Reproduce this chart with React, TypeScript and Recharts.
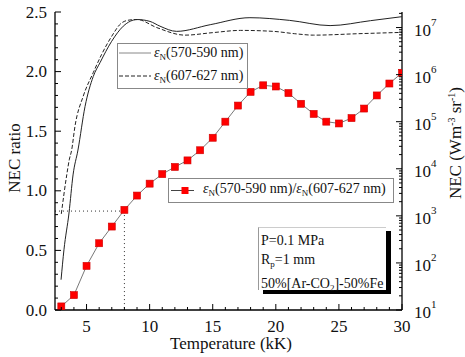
import { ComposedChart, Line, ReferenceLine, XAxis, YAxis } from "recharts";

const temps = [3, 4, 5, 6, 7, 8, 9, 10, 11, 12, 13, 14, 15, 16, 17, 18, 19, 20, 21, 22, 23, 24, 25, 26, 27, 28, 29, 30];
const ratio = [0.03, 0.125, 0.37, 0.56, 0.7, 0.84, 0.96, 1.06, 1.14, 1.2, 1.255, 1.34, 1.445, 1.58, 1.715, 1.83, 1.885, 1.875, 1.82, 1.73, 1.645, 1.58, 1.565, 1.61, 1.69, 1.8, 1.9, 1.99];

// NEC, 570-590 nm (solid)
const solidT = [2.98, 3.21, 3.61, 3.93, 4.32, 4.88, 5.53, 6.07, 6.99, 7.91, 9.02, 10.03, 10.82, 12.14, 14.8, 17.95, 21.1, 24.3, 27.5, 29.97];
const solidNec = [44, 190, 1150, 7400, 25000, 2.1e5, 9.1e5, 1.8e6, 5.1e6, 1.07e7, 1.48e7, 1.35e7, 1.07e7, 8.3e6, 1.15e7, 1.62e7, 1.42e7, 1.1e7, 1.4e7, 1.7e7];

// NEC, 607-627 nm (dashed)
const dashedT = [3.0, 3.43, 3.63, 3.82, 4.08, 4.74, 5.53, 6.2, 6.99, 7.79, 8.44, 9.02, 10.56, 12.8, 15.0, 17.2, 19.8, 21.5, 23.0, 26.5, 30.0];
const dashedNec = [1.1e3, 7.4e3, 1.55e4, 2.5e4, 7.9e4, 3.5e5, 1.1e6, 2.7e6, 6.5e6, 1.26e7, 1.45e7, 1.48e7, 1.0e7, 6.9e6, 7.8e6, 8.7e6, 8.3e6, 7.4e6, 6.9e6, 7.4e6, 7.9e6];

const tempTicks = [3, 4, 5, 6, 7, 8, 9, 10, 11, 12, 13, 14, 15, 16, 17, 18, 19, 20, 21, 22, 23, 24, 25, 26, 27, 28, 29, 30];
const ratioTicks = Array.from({ length: 26 }, (_, i) => i / 10);
const necTicks = [1, 2, 3, 4, 5, 6].flatMap((k) => [1, 2, 3, 4, 5, 6, 7, 8, 9].map((m) => m * 10 ** k)).concat([1e7, 2e7]);

const markT = 8;
const markRatio = 0.83;

const ratioData = temps.map((t, i) => ({ T: t, r: ratio[i] }));
const solidData = solidT.map((t, i) => ({ T: t, nec: solidNec[i] }));
const dashedData = dashedT.map((t, i) => ({ T: t, nec: dashedNec[i] }));

const FONT = '"Liberation Serif", "Times New Roman", serif';

function BottomTick(props: any) {
  const { x, y, payload } = props;
  const major = payload.value % 5 === 0;
  return (
    <g>
      <line x1={x} x2={x} y1={y} y2={y - (major ? 6 : 3)} stroke="#000" />
      {major && (
        <text x={x} y={y + 16} textAnchor="middle" dominantBaseline="central" fontSize={17} fontFamily={FONT} fill="#111">
          {payload.value}
        </text>
      )}
    </g>
  );
}

function TopTick(props: any) {
  const { x, y, payload } = props;
  const major = payload.value % 5 === 0;
  return <line x1={x} x2={x} y1={y} y2={y + (major ? 6 : 3)} stroke="#000" />;
}

function LeftTick(props: any) {
  const { x, y, payload } = props;
  const v = payload.value;
  const major = Math.abs(v * 2 - Math.round(v * 2)) < 1e-6;
  return (
    <g>
      <line x1={x} x2={x + (major ? 6 : 3)} y1={y} y2={y} stroke="#000" />
      {major && (
        <text x={x - 8} y={y} textAnchor="end" dominantBaseline="central" fontSize={17} fontFamily={FONT} fill="#111">
          {v.toFixed(1)}
        </text>
      )}
    </g>
  );
}

function RightTick(props: any) {
  const { x, y, payload } = props;
  const exp = Math.log10(payload.value);
  const major = Math.abs(exp - Math.round(exp)) < 1e-6;
  return (
    <g>
      <line x1={x} x2={x - (major ? 6 : 3)} y1={y} y2={y} stroke="#000" />
      {major && (
        <text x={x + 12} y={y + 2} dominantBaseline="central" fontSize={17} fontFamily={FONT} fill="#111">
          <tspan>10</tspan>
          <tspan dy={-8} fontSize={11}>{Math.round(exp)}</tspan>
        </text>
      )}
    </g>
  );
}

function SquareDot(props: any) {
  const { cx, cy } = props;
  if (cx == null || cy == null) return null;
  return <rect x={cx - 3.5} y={cy - 3.5} width={7} height={7} fill="#ff0000" stroke="#d00000" strokeWidth={0.6} />;
}

const Eps = () => (
  <span>
    <i>ε</i>
    <sub style={{ fontSize: 9, verticalAlign: "-3px" }}>N</sub>
  </span>
);

export default function App() {
  return (
    <div style={{ position: "absolute", left: 0, top: 0, width: 465, height: 357, background: "#fff", fontFamily: FONT }}>
      <ComposedChart width={465} height={357} margin={{ top: 12, right: 0, bottom: 0, left: 0 }}>
        <XAxis
          xAxisId="t"
          dataKey="T"
          type="number"
          domain={[2.5, 30]}
          allowDataOverflow
          ticks={tempTicks}
          interval={0}
          height={47}
          tickSize={0}
          tickMargin={0}
          tickLine={false}
          tick={<BottomTick />}
          axisLine={{ stroke: "#000", strokeWidth: 1.3 }}
        />
        <XAxis
          xAxisId="top"
          orientation="top"
          type="number"
          domain={[2.5, 30]}
          allowDataOverflow
          ticks={tempTicks}
          interval={0}
          height={0}
          tickSize={0}
          tickMargin={0}
          tickLine={false}
          tick={<TopTick />}
          axisLine={{ stroke: "#000", strokeWidth: 1.3 }}
        />
        <YAxis
          yAxisId="ratio"
          type="number"
          domain={[0, 2.5]}
          allowDataOverflow
          ticks={ratioTicks}
          interval={0}
          width={55}
          tickSize={0}
          tickMargin={0}
          tickLine={false}
          tick={<LeftTick />}
          axisLine={{ stroke: "#000", strokeWidth: 1.3 }}
        />
        <YAxis
          yAxisId="nec"
          orientation="right"
          type="number"
          scale="log"
          domain={[10, 2.14e7]}
          allowDataOverflow
          ticks={necTicks}
          interval={0}
          width={63}
          tickSize={0}
          tickMargin={0}
          tickLine={false}
          tick={<RightTick />}
          axisLine={{ stroke: "#000", strokeWidth: 1.3 }}
        />
        <ReferenceLine
          xAxisId="t"
          yAxisId="ratio"
          segment={[{ x: 2.5, y: markRatio }, { x: markT, y: markRatio }]}
          stroke="#333"
          strokeDasharray="1 3"
        />
        <ReferenceLine
          xAxisId="t"
          yAxisId="ratio"
          segment={[{ x: markT, y: markRatio }, { x: markT, y: 0 }]}
          stroke="#333"
          strokeDasharray="1 3"
        />
        <Line
          xAxisId="t"
          yAxisId="nec"
          data={solidData}
          dataKey="nec"
          type="monotone"
          stroke="#222"
          strokeWidth={1}
          dot={false}
          isAnimationActive={false}
        />
        <Line
          xAxisId="t"
          yAxisId="nec"
          data={dashedData}
          dataKey="nec"
          type="monotone"
          stroke="#222"
          strokeWidth={1}
          strokeDasharray="4 2"
          dot={false}
          isAnimationActive={false}
        />
        <Line
          xAxisId="t"
          yAxisId="ratio"
          data={ratioData}
          dataKey="r"
          type="linear"
          stroke="#555"
          strokeWidth={0.8}
          dot={<SquareDot />}
          isAnimationActive={false}
        />
      </ComposedChart>

      {/* axis titles */}
      <div style={{ position: "absolute", left: 15, top: 158, transform: "translate(-50%, -50%) rotate(-90deg)", fontSize: 17, whiteSpace: "nowrap", color: "#111" }}>
        NEC ratio
      </div>
      <div style={{ position: "absolute", left: 456, top: 143, transform: "translate(-50%, -50%) rotate(-90deg)", fontSize: 17, whiteSpace: "nowrap", color: "#111" }}>
        NEC (Wm<sup style={{ fontSize: 10 }}>-3</sup> sr<sup style={{ fontSize: 10 }}>-1</sup>)
      </div>
      <div style={{ position: "absolute", left: 231, top: 344, transform: "translate(-50%, -50%)", fontSize: 17, whiteSpace: "nowrap", color: "#111" }}>
        Temperature (kK)
      </div>

      {/* legend for NEC curves */}
      <div style={{ position: "absolute", left: 117, top: 43, width: 129, height: 44, border: "1px solid #888", background: "#fff", fontSize: 14, color: "#111" }}>
        <svg width={36} height={44} style={{ position: "absolute", left: 0, top: 0 }}>
          <line x1={1} x2={33} y1={9} y2={9} stroke="#888" strokeWidth={1} />
          <line x1={1} x2={33} y1={32} y2={32} stroke="#222" strokeWidth={1} strokeDasharray="4 2" />
        </svg>
        <div style={{ position: "absolute", left: 36, top: 0, whiteSpace: "nowrap", lineHeight: "18px" }}>
          <Eps />(570-590 nm)
        </div>
        <div style={{ position: "absolute", left: 36, top: 23, whiteSpace: "nowrap", lineHeight: "18px" }}>
          <Eps />(607-627 nm)
        </div>
      </div>

      {/* legend for ratio */}
      <div style={{ position: "absolute", left: 168, top: 178, width: 224, height: 23, border: "1px solid #888", background: "#fff", fontSize: 14, color: "#111" }}>
        <svg width={34} height={23} style={{ position: "absolute", left: 0, top: 0 }}>
          <line x1={2} x2={25} y1={11.5} y2={11.5} stroke="#444" strokeWidth={1} />
          <rect x={12.5} y={8} width={7} height={7} fill="#ff0000" />
        </svg>
        <div style={{ position: "absolute", left: 34, top: 1, whiteSpace: "nowrap", lineHeight: "18px" }}>
          <Eps />(570-590 nm)/<Eps />(607-627 nm)
        </div>
      </div>

      {/* conditions box */}
      <div
        style={{
          position: "absolute",
          left: 258,
          top: 227,
          width: 128,
          height: 63,
          borderLeft: "1px solid #999",
          borderTop: "1px solid #ccc",
          background: "#fff",
          boxShadow: "5px 4px 0 0 #000",
          fontSize: 14,
          lineHeight: "19px",
          color: "#111",
          paddingLeft: 2,
          paddingTop: 3,
          boxSizing: "border-box",
          whiteSpace: "nowrap",
        }}
      >
        <div>P=0.1 MPa</div>
        <div>
          R<sub style={{ fontSize: 9, verticalAlign: "-3px" }}>p</sub>=1 mm
        </div>
        <div>
          50%[Ar-CO<sub style={{ fontSize: 9, verticalAlign: "-3px" }}>2</sub>]-50%Fe
        </div>
      </div>
    </div>
  );
}
